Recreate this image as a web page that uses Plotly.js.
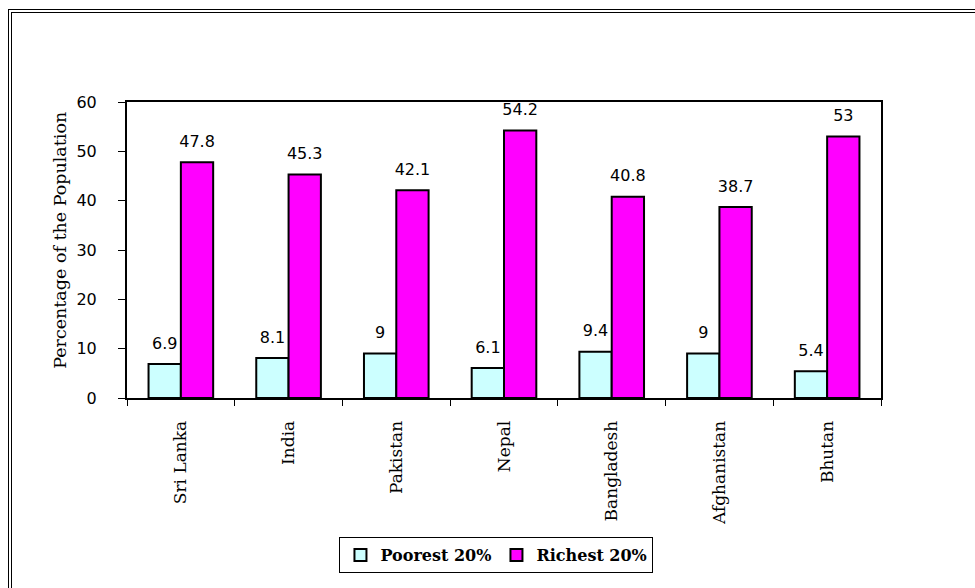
<!DOCTYPE html>
<html>
<head>
<meta charset="utf-8">
<script src="https://cdn.plot.ly/plotly-3.0.1.min.js"></script>
<style>
html,body{margin:0;padding:0;background:#fff;}
#wrap{position:relative;width:975px;height:588px;overflow:hidden;}
#chart{position:absolute;left:0;top:0;width:975px;height:588px;}
#frame{position:absolute;left:8px;top:9px;width:1100px;height:700px;border-left:4px double #000;border-top:4px double #000;pointer-events:none;}
</style>
</head>
<body>
<div id="wrap">
<div id="chart"></div>
<div id="frame"></div>
</div>
<script>
const countries = ["Sri Lanka","India","Pakistan","Nepal","Bangladesh","Afghanistan","Bhutan"];
const poorest = [6.9, 8.1, 9, 6.1, 9.4, 9, 5.4];
const richest = [47.8, 45.3, 42.1, 54.2, 40.8, 38.7, 53];
const seriesNames = ["Poorest 20%", "Richest 20%"];
const yTicks = [0,10,20,30,40,50,60];
const yTitle = "Percentage of the Population";

const labelFont = {family: "DejaVu Sans, Verdana, sans-serif", size: 8, color: "#000"};
const tmpl = "<span style='font-size:16px'>%{y}</span><br> ";

const traces = [
  {type:"bar", name: seriesNames[0], x: countries, y: poorest,
   marker:{color:"#CCFFFF", line:{color:"#000", width:2}},
   texttemplate: tmpl, textposition:"outside", textfont: labelFont,
   constraintext:"none", cliponaxis:false, hoverinfo:"none"},
  {type:"bar", name: seriesNames[1], x: countries, y: richest,
   marker:{color:"#FF00FF", line:{color:"#000", width:2}},
   texttemplate: tmpl, textposition:"outside", textfont: labelFont,
   constraintext:"none", cliponaxis:false, hoverinfo:"none"}
];

const layout = {
  width: 975, height: 588,
  margin: {l:127, r:94, t:102, b:190},
  paper_bgcolor: "rgba(0,0,0,0)",
  plot_bgcolor: "#fff",
  barmode: "group",
  bargap: 0.4,
  bargroupgap: 0,
  showlegend: true,
  legend: {
    orientation: "h", x: 0.49, xanchor: "center", y: -0.47, yanchor: "top",
    bgcolor: "#fff", bordercolor: "#000", borderwidth: 1,
    font: {family: "DejaVu Serif, serif", size: 16, color: "#000", weight: "bold"},
    itemwidth: 30, traceorder: "normal"
  },
  xaxis: {
    type: "category",
    showline: true, linecolor: "#000", linewidth: 2, mirror: true,
    ticks: "outside", tickson: "boundaries", ticklen: 6, tickwidth: 1, tickcolor: "#000",
    tickangle: -90, ticklabelstandoff: 14,
    tickfont: {family: "DejaVu Serif, serif", size: 17, color: "#000"},
    showgrid: false, zeroline: false, fixedrange: true
  },
  yaxis: {
    range: [0, 60], tickvals: yTicks, ticktext: yTicks.map(String),
    showline: true, linecolor: "#000", linewidth: 2, mirror: true,
    ticks: "outside", ticklen: 7, tickwidth: 1, tickcolor: "#000",
    ticklabelstandoff: 18,
    tickfont: {family: "DejaVu Sans, Verdana, sans-serif", size: 16, color: "#000"},
    showgrid: false, zeroline: false, fixedrange: true
  },
  annotations: [{
    text: yTitle, xref: "paper", yref: "paper", x: -0.089, y: 0.534,
    xanchor: "center", yanchor: "middle", textangle: -90, showarrow: false,
    font: {family: "DejaVu Serif, serif", size: 17.5, color: "#000"}
  }]
};

Plotly.newPlot("chart", traces, layout, {displayModeBar: false, staticPlot: true});
</script>
</body>
</html>
